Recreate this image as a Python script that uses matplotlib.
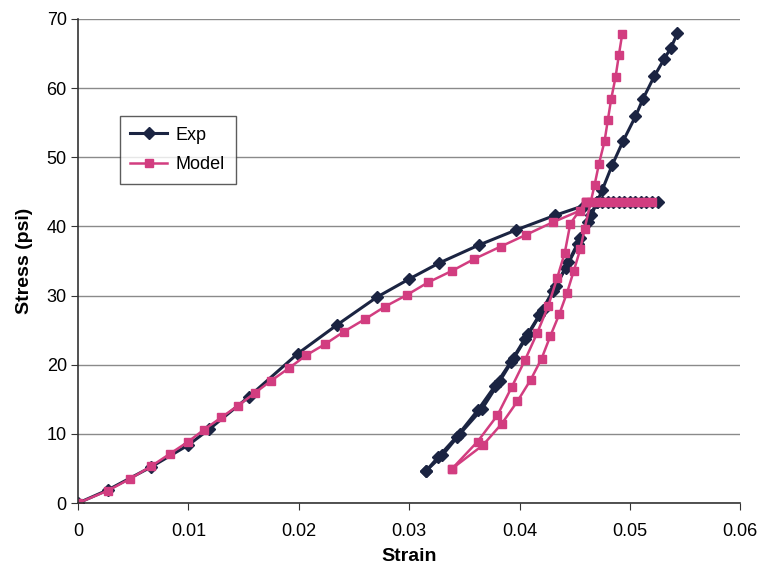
import matplotlib
matplotlib.use("Agg")
import matplotlib.pyplot as plt

plt.rcParams["font.family"] = ["Liberation Sans", "DejaVu Sans"]

# Experimental curve (strain, stress psi)
exp_load_x = [0, 0.0027, 0.0066, 0.0100, 0.0119, 0.0155, 0.0199, 0.0235, 0.0271,
              0.0300, 0.0327, 0.0363, 0.0397, 0.0432, 0.0458, 0.0470]
exp_load_y = [0, 1.9, 5.2, 8.4, 10.7, 15.4, 21.6, 25.8, 29.8,
              32.4, 34.7, 37.3, 39.5, 41.6, 43.0, 43.6]
exp_hold_x = [0.0470, 0.0475, 0.0480, 0.0485, 0.0490, 0.0495, 0.0500,
              0.0505, 0.0510, 0.0515, 0.0520, 0.0525]
exp_hold_y = [43.6] * 12
exp_unload_x = [0.0470, 0.0462, 0.0453, 0.0442, 0.0430, 0.0418, 0.0405, 0.0392,
                0.0378, 0.0362, 0.0343, 0.0326, 0.0315]
exp_unload_y = [43.6, 40.6, 37.4, 34.0, 30.6, 27.2, 23.8, 20.4,
                17.0, 13.4, 9.6, 6.6, 4.6]
exp_reload_x = [0.0315, 0.0330, 0.0346, 0.0366, 0.0382, 0.0395, 0.0408, 0.0421,
                0.0433, 0.0444, 0.0455, 0.0465, 0.0475, 0.0484, 0.0494, 0.0505,
                0.0512, 0.0522, 0.0531, 0.0537, 0.0543]
exp_reload_y = [4.6, 6.9, 10.0, 13.6, 17.6, 21.0, 24.4, 27.9,
                31.4, 34.8, 38.3, 41.6, 45.3, 48.9, 52.4, 55.9,
                58.5, 61.7, 64.2, 65.8, 67.9]

# Model curve
mod_load_x = [0, 0.0027, 0.0047, 0.0066, 0.0083, 0.0100, 0.0114, 0.0130, 0.0145,
              0.0160, 0.0175, 0.0191, 0.0207, 0.0224, 0.0241, 0.0260, 0.0278,
              0.0298, 0.0317, 0.0339, 0.0359, 0.0383, 0.0406, 0.0430, 0.0455, 0.0460]
mod_load_y = [0, 1.8, 3.5, 5.3, 7.1, 8.9, 10.6, 12.4, 14.1,
              15.9, 17.7, 19.5, 21.4, 23.0, 24.8, 26.6, 28.4,
              30.1, 31.9, 33.6, 35.3, 37.1, 38.8, 40.6, 42.3, 43.6]
mod_hold_x = [0.0460, 0.0465, 0.0470, 0.0475, 0.0480, 0.0485, 0.0490,
              0.0495, 0.0500, 0.0505, 0.0510, 0.0515, 0.0520]
mod_hold_y = [43.6] * 13
mod_unload_x = [0.0460, 0.0446, 0.0441, 0.0434, 0.0426, 0.0416, 0.0405,
                0.0393, 0.0380, 0.0362, 0.0339]
mod_unload_y = [43.6, 40.4, 36.2, 32.5, 28.5, 24.6, 20.7,
                16.8, 12.7, 8.9, 5.0]
mod_reload_x = [0.0339, 0.0367, 0.0384, 0.0398, 0.0410, 0.0420, 0.0428, 0.0436,
                0.0443, 0.0449, 0.0455, 0.0459, 0.0468, 0.0472, 0.0477, 0.0480,
                0.0483, 0.0487, 0.0490, 0.0493]
mod_reload_y = [5.0, 8.4, 11.5, 14.7, 17.8, 20.9, 24.2, 27.3,
                30.4, 33.5, 36.7, 39.7, 46.0, 49.1, 52.3, 55.4,
                58.4, 61.6, 64.8, 67.8]

EXP_COLOR = "#1b2442"
MOD_COLOR = "#d23d80"

fig = plt.figure(figsize=(7.64, 5.75), dpi=100)
ax = fig.add_axes([0.102, 0.125, 0.867, 0.842])

exp_style = dict(color=EXP_COLOR, lw=2.2, marker="D", ms=6, mec=EXP_COLOR, mfc=EXP_COLOR)
mod_style = dict(color=MOD_COLOR, lw=1.8, marker="s", ms=6, mec=MOD_COLOR, mfc=MOD_COLOR)

ax.plot(exp_load_x, exp_load_y, label="Exp", **exp_style)
ax.plot(exp_hold_x, exp_hold_y, **exp_style)
ax.plot(exp_unload_x, exp_unload_y, **exp_style)
ax.plot(exp_reload_x, exp_reload_y, **exp_style)

ax.plot(mod_load_x, mod_load_y, label="Model", **mod_style)
ax.plot(mod_hold_x, mod_hold_y, **mod_style)
ax.plot(mod_unload_x, mod_unload_y, **mod_style)
ax.plot(mod_reload_x, mod_reload_y, **mod_style)

ax.set_xlim(0, 0.06)
ax.set_ylim(0, 70)
ax.set_xticks([0, 0.01, 0.02, 0.03, 0.04, 0.05, 0.06])
ax.set_xticklabels(["0", "0.01", "0.02", "0.03", "0.04", "0.05", "0.06"])
ax.set_yticks(range(0, 71, 10))
ax.yaxis.grid(True, color="#8a8a8a", lw=1.0)
ax.set_axisbelow(True)
for s in ("top", "right"):
    ax.spines[s].set_visible(False)
for s in ("left", "bottom"):
    ax.spines[s].set_color("#333333")
    ax.spines[s].set_linewidth(1.2)
ax.tick_params(labelsize=13, length=5, color="#333333", pad=3)
ax.tick_params(axis="x", pad=9)

ax.set_xlabel("Strain", fontsize=14, fontweight="bold", labelpad=6)
ax.set_ylabel("Stress (psi)", fontsize=14, fontweight="bold", labelpad=10)

leg = ax.legend(loc="upper left", bbox_to_anchor=(0.063, 0.80), fontsize=13,
                frameon=True, fancybox=False, edgecolor="#333333",
                handlelength=2.0, handletextpad=0.5, borderpad=0.6,
                labelspacing=0.7, borderaxespad=0)
leg.get_frame().set_linewidth(1.0)

fig.savefig("out.png", dpi=100, facecolor="white")
